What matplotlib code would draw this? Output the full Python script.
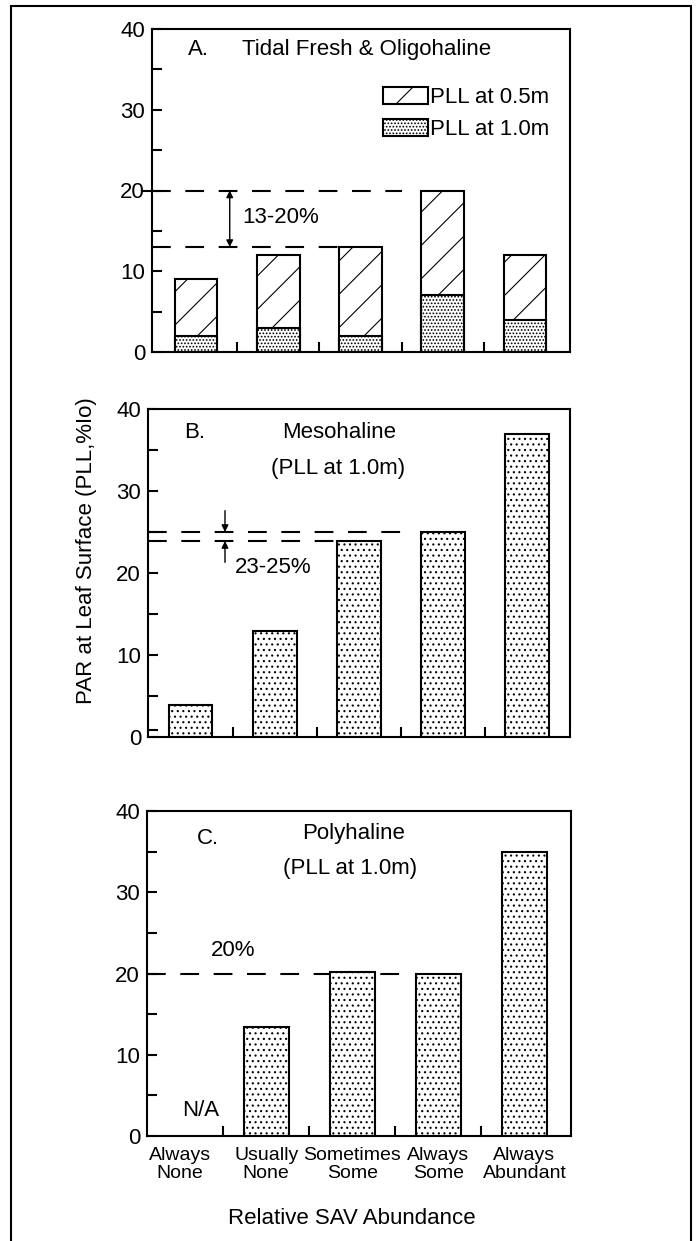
import matplotlib
matplotlib.use("Agg")
import matplotlib.pyplot as plt
from matplotlib.patches import Patch, Rectangle
from matplotlib.ticker import FixedLocator

plt.rcParams["font.family"] = ["Liberation Sans", "DejaVu Sans"]
plt.rcParams["hatch.linewidth"] = 0.8

# data
categories = ["Always\nNone", "Usually\nNone", "Sometimes\nSome", "Always\nSome", "Always\nAbundant"]
tidal_pll_05 = [9, 12, 13, 20, 12]
tidal_pll_10 = [2, 3, 2, 7, 4]
meso_pll_10 = [3.9, 12.9, 23.9, 25, 37]
poly_pll_10 = [None, 13.4, 20.2, 20, 35]  # first class has no data (N/A)

tidal_range = (13, 20)
meso_range = (23.9, 25)
poly_threshold = 20

W, H = 696, 1241
BAR_W = 0.52
DASH = (9, 7)

fig = plt.figure(figsize=(W / 100, H / 100), dpi=100)


def add_axes_px(left, top, right, bottom):
    return fig.add_axes([left / W, 1 - bottom / H, (right - left) / W, (bottom - top) / H])


def style_axes(ax, xlim, minor=(5, 15, 25, 35)):
    ax.set_xlim(*xlim)
    ax.set_ylim(0, 40)
    ax.set_yticks([0, 10, 20, 30, 40])
    ax.yaxis.set_minor_locator(FixedLocator(minor))
    ax.tick_params(axis="y", which="both", direction="in", length=7, width=1.5,
                   labelsize=16, pad=5)
    ax.set_xticks([])
    ax.set_xticks([0.5, 1.5, 2.5, 3.5], minor=True)
    ax.tick_params(axis="x", which="minor", direction="in", length=7, width=1.5)
    for sp in ax.spines.values():
        sp.set_linewidth(1.5)


def hline(ax, y, x0, x1):
    ax.plot([x0, x1], [y, y], color="black", lw=1.5, dashes=DASH, zorder=1, clip_on=False)


x = list(range(len(categories)))

# ---------------- A. Tidal Fresh & Oligohaline ----------------
axA = add_axes_px(152, 29, 570, 352)
xlimA = (-0.535, 4.547)
style_axes(axA, xlimA)
# the 20 tick in panel A also sticks out of the axis
axA.plot([-0.024, 0], [20, 20], transform=axA.get_yaxis_transform(), color="black",
         lw=1.5, clip_on=False)
axA.bar(x, tidal_pll_05, BAR_W, color="white", edgecolor="black", lw=1.5, hatch="/", zorder=2)
axA.bar(x, tidal_pll_10, BAR_W, color="white", edgecolor="black", lw=1.5, hatch=".....", zorder=3)
hline(axA, tidal_range[1], xlimA[0], 2.5)
hline(axA, tidal_range[0], xlimA[0], 2 - BAR_W / 2)
axA.annotate("", xy=(0.41, tidal_range[0]), xytext=(0.41, tidal_range[1]),
             arrowprops=dict(arrowstyle="<|-|>", color="black", lw=1,
                             mutation_scale=10, shrinkA=0, shrinkB=0))
axA.text(0.56, 16.6, "13-20%", fontsize=16, va="center", ha="left")
axA.text(0.086, 0.935, "A.", transform=axA.transAxes, fontsize=16, va="center")
axA.text(0.215, 0.935, "Tidal Fresh & Oligohaline", transform=axA.transAxes,
         fontsize=16, va="center")
handles = [
    Patch(facecolor="white", edgecolor="black", lw=1.5, hatch="/", label="PLL at 0.5m"),
    Patch(facecolor="white", edgecolor="black", lw=1.5, hatch=".....", label="PLL at 1.0m"),
]
axA.legend(handles=handles, loc="upper left", bbox_to_anchor=(0.553, 0.82), frameon=False,
           fontsize=16, handlelength=2.0, handleheight=0.75, handletextpad=0.1,
           labelspacing=0.5, borderpad=0, borderaxespad=0)

# ---------------- B. Mesohaline ----------------
axB = add_axes_px(148, 409, 570, 737)
xlimB = (-0.505, 4.51)
style_axes(axB, xlimB, minor=(0.9, 5, 15, 25, 35))
axB.bar(x, meso_pll_10, BAR_W, color="white", edgecolor="black", lw=1.5, hatch="...", zorder=2)
hline(axB, meso_range[1], xlimB[0], 2.53)
hline(axB, meso_range[0], xlimB[0], 2 - BAR_W / 2)
axB.annotate("", xy=(0.41, meso_range[1]), xytext=(0.41, 27.6),
             arrowprops=dict(arrowstyle="-|>", color="black", lw=1,
                             mutation_scale=10, shrinkA=0, shrinkB=0))
axB.annotate("", xy=(0.41, meso_range[0]), xytext=(0.41, 21.3),
             arrowprops=dict(arrowstyle="-|>", color="black", lw=1,
                             mutation_scale=10, shrinkA=0, shrinkB=0))
axB.text(0.53, 20.7, "23-25%", fontsize=16, va="center", ha="left")
axB.text(0.085, 0.927, "B.", transform=axB.transAxes, fontsize=16, va="center")
axB.text(0.452, 0.927, "Mesohaline", transform=axB.transAxes, fontsize=16,
         va="center", ha="center")
axB.text(0.45, 0.82, "(PLL at 1.0m)", transform=axB.transAxes, fontsize=16,
         va="center", ha="center")

# ---------------- C. Polyhaline ----------------
axC = add_axes_px(147, 811, 571, 1136)
xlimC = (-0.385, 4.54)
style_axes(axC, xlimC)
xs = [i for i, v in zip(x, poly_pll_10) if v is not None]
vs = [v for v in poly_pll_10 if v is not None]
axC.bar(xs, vs, BAR_W, color="white", edgecolor="black", lw=1.5, hatch="...", zorder=2)
hline(axC, poly_threshold, xlimC[0], 2.6)
axC.text(0.203, 0.57, "20%", transform=axC.transAxes, fontsize=16, va="center", ha="center")
axC.text(0.126, 0.08, "N/A", transform=axC.transAxes, fontsize=16, va="center", ha="center")
axC.text(0.118, 0.915, "C.", transform=axC.transAxes, fontsize=16, va="center")
axC.text(0.488, 0.93, "Polyhaline", transform=axC.transAxes, fontsize=16,
         va="center", ha="center")
axC.text(0.48, 0.823, "(PLL at 1.0m)", transform=axC.transAxes, fontsize=16,
         va="center", ha="center")
axC.set_xticks(x)
axC.set_xticklabels(categories, fontsize=14, linespacing=1.1)
axC.tick_params(axis="x", which="major", length=0, pad=8)

# shared axis titles
fig.text(87 / W, 1 - 551 / H, "PAR at Leaf Surface (PLL,%Io)", rotation=90,
         ha="center", va="center", fontsize=16)
fig.text(351.5 / W, 1 - 1218 / H, "Relative SAV Abundance", ha="center", va="center",
         fontsize=16)

# frame around the whole figure
fig.patches.append(Rectangle((11 / W, -0.01), 680 / W, 1.01 - 5.5 / H, transform=fig.transFigure,
                             fill=False, lw=1.5, edgecolor="black"))

fig.savefig("out.png", dpi=100)
